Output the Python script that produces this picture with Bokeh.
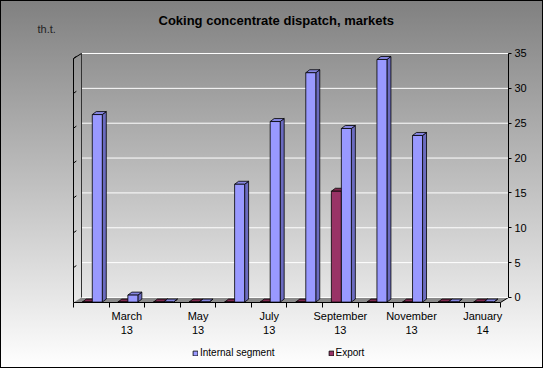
from bokeh.plotting import figure
from bokeh.models import (Range1d, LinearAxis, FixedTicker, Label, Legend,
                          LegendItem, ColumnDataSource)
from bokeh.embed import file_html
from bokeh.resources import INLINE

# ---- data ----
months = ["February 13", "March 13", "April 13", "May 13", "June 13", "July 13",
          "August 13", "September 13", "October 13", "November 13",
          "December 13", "January 14"]
tick_labels = ["", "March\n13", "", "May\n13", "", "July\n13", "",
               "September\n13", "", "November\n13", "", "January\n14"]
internal = [26.9, 1.0, 0, 0, 16.9, 25.9, 32.9, 24.9, 34.8, 23.9, 0, 0]
export = [0, 0, 0, 0, 0, 0, 0, 15.9, 0, 0, 0, 0]
y_ticks = [0, 5, 10, 15, 20, 25, 30, 35]
title_text = "Coking concentrate  dispatch, markets"
unit_text = "th.t."
series_names = ["Internal segment", "Export"]

# ---- geometry (3D look) ----
n = len(months)
DX, DY = 0.225, 0.72      # depth offset of back wall (x in categories, y in units)
BASE = -0.66              # front-bottom of bars
SDX, SDY = 0.112, 0.43    # bar depth
PXX = 435 / (n + DX)      # px per category
PXY = 252 / (35.43 + DY)  # px per value unit

# frame covers the whole canvas except the right axis panel
x_start = -0.5 - 73 / PXX
y_end = 35.43 + 50 / PXY
y_start = -DY - 66 / PXY

p = figure(frame_width=508, frame_height=368, output_backend="svg",
           toolbar_location=None,
           x_range=Range1d(x_start, n - 0.5 + DX), y_range=Range1d(y_start, y_end),
           x_axis_location=None, y_axis_location=None,
           min_border_left=0, min_border_right=35, min_border_top=0,
           min_border_bottom=0)
p.outline_line_color = None
for g in p.grid:
    g.visible = False
p.background_fill_color = None
p.border_fill_color = None
p.styles = {"background": "linear-gradient(#808080, #ffffff)",
            "box-shadow": "inset 0 0 0 1px #000000"}

x0b, x1b = -0.5 + DX, n - 0.5 + DX
# floor
p.patch([-0.5, n - 0.5, x1b, x0b], [-DY, -DY, 0, 0], fill_color="#8a8a8a",
        line_color=None)
p.segment(x0=[n - 0.5], y0=[-DY], x1=[x1b], y1=[0], line_color="black", line_width=1)
# grid lines on back wall
p.segment(x0=[x0b] * len(y_ticks), y0=y_ticks, x1=[x1b] * len(y_ticks), y1=y_ticks,
          line_color="white", line_width=1)
# left wall edges
p.segment(x0=[-0.5, x0b, -0.5], y0=[-DY, 0, y_ticks[-1] - DY],
          x1=[-0.5, x0b, x0b], y1=[y_ticks[-1] - DY, y_ticks[-1], y_ticks[-1]],
          line_color=["black", "#333333", "black"], line_width=1)
p.segment(x0=[-0.5] * (len(y_ticks) - 1), y0=[t - DY for t in y_ticks[1:]],
          x1=[-0.42] * (len(y_ticks) - 1), y1=[t - DY + 0.3 for t in y_ticks[1:]],
          line_color="black", line_width=1)


def bars(vals, off0, off1, c_front, c_side, c_top):
    xs0 = [i + off0 for i in range(n)]
    xs1 = [i + off1 for i in range(n)]
    tops = [BASE + v for v in vals]
    side_x = [[a, a + SDX, a + SDX, a] for a in xs1]
    side_y = [[BASE, BASE + SDY, t + SDY, t] for t in tops]
    top_x = [[a, b, b + SDX, a + SDX] for a, b in zip(xs0, xs1)]
    top_y = [[t, t, t + SDY, t + SDY] for t in tops]
    p.patches(side_x, side_y, fill_color=c_side, line_color="black", line_width=0.8)
    p.patches(top_x, top_y, fill_color=c_top, line_color="black", line_width=0.8)
    src = ColumnDataSource(dict(left=xs0, right=xs1, bottom=[BASE] * n, top=tops))
    return p.quad(left="left", right="right", bottom="bottom", top="top", source=src,
                  fill_color=c_front, line_color="black", line_width=0.8)


r_exp = bars(export, -0.253, 0.028, "#993366", "#6e2449", "#80294f")
r_int = bars(internal, 0.028, 0.309, "#9999ff", "#6b6bc0", "#8585e0")

# right value axis
yaxis = LinearAxis(ticker=FixedTicker(ticks=y_ticks), bounds=(0, 35),
                   major_tick_in=0, major_tick_out=3, minor_tick_out=0, minor_tick_in=0,
                   major_label_text_font_size="11px",
                   major_label_text_font="Liberation Sans",
                   major_label_text_color="black", major_label_standoff=3,
                   axis_line_color="black", major_tick_line_color="black")
p.add_layout(yaxis, "right")

# bottom category axis, pinned to the front edge of the floor
xaxis = LinearAxis(ticker=FixedTicker(ticks=list(range(n)),
                                      minor_ticks=[i - 0.5 for i in range(n + 1)]),
                   bounds=(-0.5, n - 0.5), fixed_location=-DY,
                   major_tick_in=0, major_tick_out=0, minor_tick_in=0, minor_tick_out=5,
                   minor_tick_line_color="black", axis_line_color="black",
                   major_label_overrides={i: lab for i, lab in enumerate(tick_labels)},
                   major_label_text_font_size="11px",
                   major_label_text_font="Liberation Sans",
                   major_label_text_color="black", major_label_standoff=2)
p.add_layout(xaxis, "below")

legend = Legend(items=[LegendItem(label=series_names[0], renderers=[r_int]),
                       LegendItem(label=series_names[1], renderers=[r_exp])],
                orientation="horizontal", location=(192, 10),
                glyph_width=6, glyph_height=6, label_standoff=2, spacing=53,
                padding=0, margin=0, background_fill_alpha=0, border_line_color=None,
                label_text_font_size="10px", label_text_font="Liberation Sans",
                label_height=11, label_text_color="black")
p.add_layout(legend, "center")

p.add_layout(Label(x=x_start + 158 / PXX, y=y_end - 19.5 / PXY, text=title_text,
                   text_align="left", text_baseline="alphabetic",
                   text_font="Liberation Sans", text_font_size="13px",
                   text_font_style="bold", text_color="black"))
p.add_layout(Label(x=x_start + 37 / PXX, y=y_end - 28 / PXY, text=unit_text,
                   text_align="left", text_baseline="alphabetic",
                   text_font="Liberation Sans", text_font_size="11px",
                   text_color="#222222"))

open("out.html", "w").write(file_html(p, INLINE))
